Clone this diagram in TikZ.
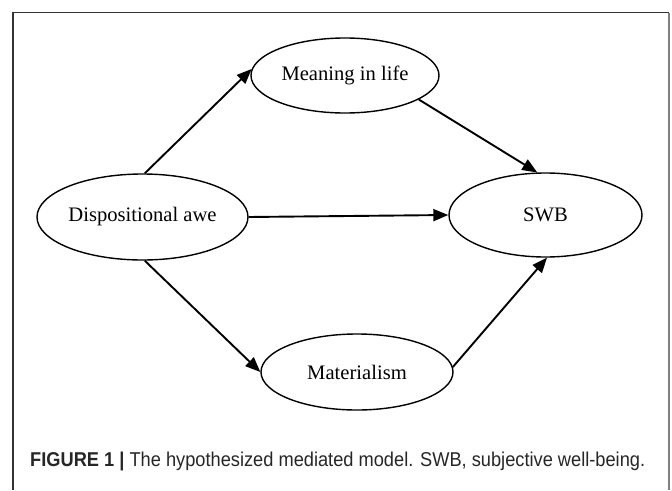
\documentclass[tikz,border=0pt]{standalone}
\usepackage{fontspec}
\setmainfont{Liberation Serif}
\newfontfamily\capfont{Liberation Sans}
\usetikzlibrary{shapes.geometric,arrows.meta}
\begin{document}
\begin{tikzpicture}[x=1pt,y=-1pt,
  latent/.style={ellipse,draw,line width=1.4pt,inner sep=0pt,font=\fontsize{20.6}{24}\selectfont},
  relpath/.style={line width=1.9pt,-{Triangle[length=15pt,width=12pt]}},
  frameline/.style={line width=1.2pt,black!80}]
\useasboundingbox (0,0) rectangle (672,490);
% frame
\coordinate (fbl) at (13,490);
\coordinate (ftl) at (13,12.5);
\coordinate (ftr) at (669,12.5);
\coordinate (fbr) at (669,490);
\draw[frameline] (fbl) -- (ftl) -- (ftr);
\draw[line width=2pt,black!50] (ftr) -- (fbr);
% nodes
\node[latent,minimum width=211pt,minimum height=86pt] (awe) at (142.5,217) {Dispositional awe};
\node[latent,minimum width=188pt,minimum height=75pt] (mil) at (345,75.5) {Meaning in life};
\node[latent,minimum width=193pt,minimum height=84pt] (swb) at (545.5,215) {SWB};
\node[latent,minimum width=192pt,minimum height=76pt] (mat) at (357,372) {Materialism};
% paths
\draw[relpath] (awe.87) -- (mil.176);
\draw[relpath] (awe.east) -- (swb.west);
\draw[relpath] (awe.-87) -- (mat.180);
\draw[relpath] (mil.-18) -- (swb.101);
\draw[relpath] (mat.3) -- (swb.-88);
% caption
\node[anchor=base west,inner sep=0pt,text=black!85] (cap) at (30,466)
  {\resizebox{615pt}{\height}{\capfont\fontsize{20}{24}\selectfont\textbf{FIGURE 1 |} The hypothesized mediated model. SWB, subjective well-being.}};
\end{tikzpicture}
\end{document}
